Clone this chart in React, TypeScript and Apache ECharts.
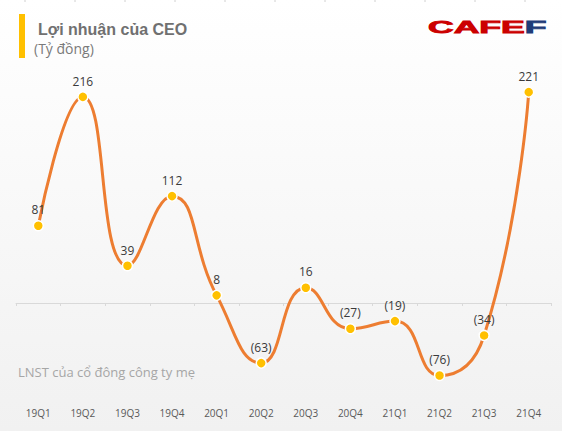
import React, { useEffect, useRef } from "react";
import * as echarts from "echarts";

const categories = ["19Q1", "19Q2", "19Q3", "19Q4", "20Q1", "20Q2", "20Q3", "20Q4", "21Q1", "21Q2", "21Q3", "21Q4"];
const profit = [81, 216, 39, 112, 8, -63, 16, -27, -19, -76, -34, 221];
const titleText = "Lợi nhuận của CEO";
const unitText = "(Tỷ đồng)";
const noteText = "LNST của cổ đông công ty mẹ";

export default function App() {
  const ref = useRef<HTMLDivElement>(null);
  useEffect(() => {
    if (!ref.current) return;
    const chart = echarts.init(ref.current, null, { renderer: "svg" });
    const topTicks: any[] = [];
    for (let i = 0; i < 11; i++) {
      topTicks.push({
        type: "line",
        shape: { x1: 25 + 50 * i, y1: 0, x2: 25 + 50 * i, y2: 2 },
        style: { stroke: "#d0d0d0", lineWidth: 1 },
        silent: true,
      });
    }
    const logoFont = "bold 16px 'Liberation Sans'";
    chart.setOption({
      animation: false,
      backgroundColor: {
        type: "linear",
        x: 0, y: 0, x2: 0, y2: 1,
        colorStops: [
          { offset: 0, color: "#ffffff" },
          { offset: 1, color: "#f1f1f1" },
        ],
      },
      grid: { left: 16, right: 11, top: 74, bottom: 32.6, containLabel: false },
      xAxis: [
        {
          type: "category",
          data: categories,
          position: "bottom",
          boundaryGap: true,
          axisLine: { onZero: true, lineStyle: { color: "#d9d9d9", width: 1 } },
          axisTick: { show: true, length: 3, lineStyle: { color: "#d9d9d9" } },
          axisLabel: { show: false },
          splitLine: { show: false },
        },
        {
          type: "category",
          data: categories,
          position: "bottom",
          boundaryGap: true,
          axisLine: { show: false, onZero: false },
          axisTick: { show: false },
          axisLabel: { show: true, color: "#595959", fontSize: 10, fontFamily: "Open Sans", margin: 10 },
          splitLine: { show: false },
        },
      ],
      yAxis: { type: "value", min: -100, max: 240, show: false, splitLine: { show: false } },
      series: [
        {
          type: "line",
          data: profit,
          xAxisIndex: 0,
          smooth: 0.5,
          lineStyle: { color: "#ED7D31", width: 3 },
          symbol: "circle",
          symbolSize: 10,
          itemStyle: { color: "#FFC000", borderColor: "#ffffff", borderWidth: 1.5 },
          label: {
            show: true,
            position: "top",
            distance: 4,
            color: "#3a3a3a",
            fontSize: 12,
            fontFamily: "Open Sans",
            formatter: (p: any) => (p.value < 0 ? `(${-p.value})` : `${p.value}`),
          },
          z: 3,
        },
      ],
      graphic: [
        ...topTicks,
        { type: "rect", shape: { x: 19, y: 14, width: 6, height: 44 }, style: { fill: "#FFC000" } },
        {
          type: "text", x: 38, y: 29,
          style: { text: titleText, font: "bold 16px 'Liberation Sans'", fill: "#707070", verticalAlign: "middle" },
        },
        {
          type: "text", x: 34, y: 48,
          style: { text: unitText, font: "14px 'Open Sans'", fill: "#7a7a7a", verticalAlign: "middle" },
        },
        {
          type: "text", x: 18, y: 372,
          style: { text: noteText, font: "13px 'Open Sans'", fill: "#a6a6a6", verticalAlign: "middle" },
        },
        {
          type: "text", x: 428, y: 27, scaleX: 2.22,
          style: {
            text: "{r|CAFE}{b|F}",
            font: logoFont,
            verticalAlign: "middle",
            rich: {
              r: { fill: "#cc0000", font: logoFont, stroke: "#cc0000", lineWidth: 0.8 },
              b: { fill: "#1f3c78", font: logoFont, stroke: "#1f3c78", lineWidth: 0.8 },
            },
          },
        },
      ],
    });
    return () => chart.dispose();
  }, []);
  return <div ref={ref} style={{ width: 562, height: 431, position: "absolute", left: 0, top: 0 }} />;
}
